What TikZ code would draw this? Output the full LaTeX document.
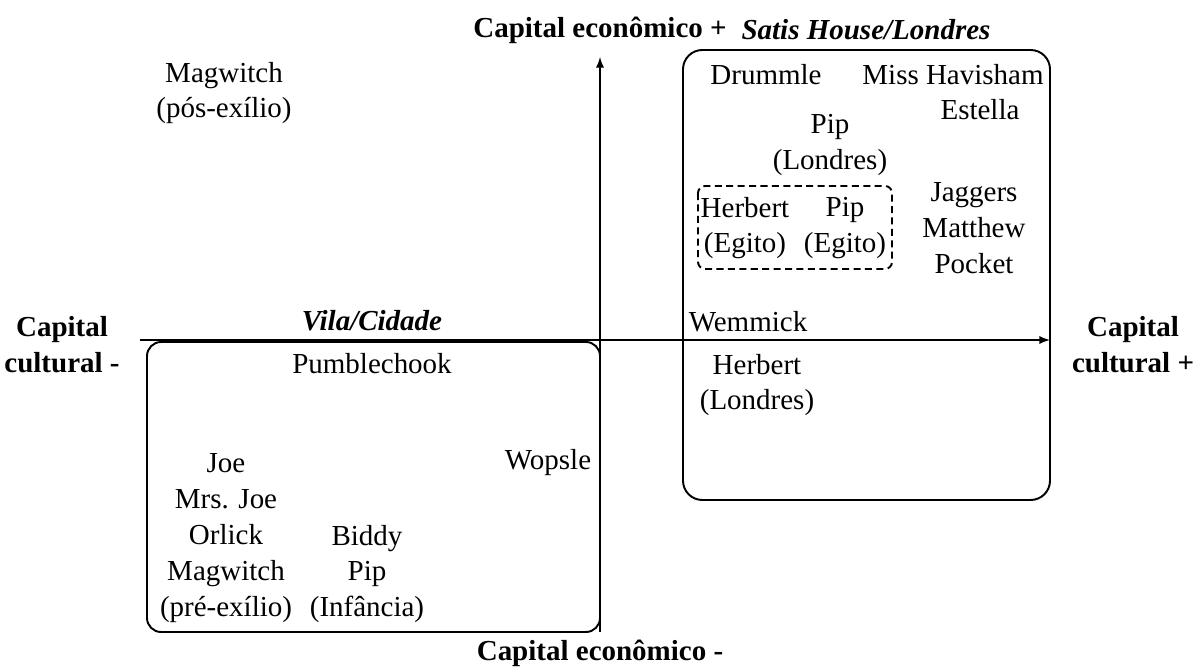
\documentclass[tikz,border=0pt]{standalone}
\usepackage{fontspec}
\setmainfont{Liberation Serif}
\usepackage{tikz}
\usetikzlibrary{arrows}

\begin{document}
\begin{tikzpicture}[x=0.02cm,y=-0.02cm]
				\tikzstyle{every node}=[font=\fontsize{16.5}{20.4}\selectfont, align=center, inner sep=0pt]
				\tikzstyle{axislabel}=[font=\fontsize{16.5}{20.4}\selectfont\bfseries]
				\tikzstyle{placelabel}=[font=\fontsize{16.5}{20.4}\selectfont\bfseries\itshape]
				\tikzstyle{frame}=[line width=1.1pt]
				\useasboundingbox (0,0) rectangle (1196,671);
				
				% eixos
				\coordinate (ebaixo) at (600,632);
				\coordinate (ecima) at (600,57);
				\coordinate (cesq) at (140,340);
				\coordinate (cdir) at (1050,340);
				\draw [-latex, frame] (ebaixo) -- (ecima);
				\draw [-latex, frame] (cesq) -- (cdir);
				
				\node[axislabel] (econmais) at (600,30) {Capital econômico +};
				\node[axislabel] (econmenos) at (600,653) {Capital econômico -};
				\node[axislabel] (cultmenos) at (62,345) {Capital\\cultural -};
				\node[axislabel] (cultmais) at (1133,345) {Capital\\cultural +};
				
				% Satis House/Londres
				\draw [frame, rounded corners=11pt] (683,50) rectangle (1050,500);
				\node[placelabel] (satis) at (866,30) {Satis House/Londres};
				\node (drummle) at (766,75) {Drummle};
				\node (havisham) at (953,75) {Miss Havisham};
				\node (estella) at (980,110) {Estella};
				\node (piplondres) at (830,145) {Pip\\(Londres)};
				\node (jaggers) at (974,228) {Jaggers\\Matthew\\Pocket};
				\draw [frame, dash pattern=on 4pt off 2.5pt, rounded corners=4pt] (698,186) rectangle (892,269);
				\node (herbertegito) at (745,228) {Herbert\\(Egito)};
				\node (pipegito) at (845,228) {Pip\\(Egito)};
				\node (wemmick) at (748,322) {Wemmick};
				\node (herbertlondres) at (757,385) {Herbert\\(Londres)};
				
				\node (magpos) at (224,93) {Magwitch\\(pós-exílio)};
				
				% Vila/Cidade
				\draw [frame, rounded corners=8pt] (147,342) rectangle (600,632);
				\node[placelabel] (vila) at (372,321) {Vila/Cidade};
				\node (pumblechook) at (372,364) {Pumblechook};
				\node (wopsle) at (548,463) {Wopsle};
				\node (joe) at (226,538) {Joe\\Mrs. Joe\\Orlick\\Magwitch\\(pré-exílio)};
				\node (biddy) at (367,574) {Biddy\\Pip\\(Infância)};
				
\end{tikzpicture}
\end{document}
